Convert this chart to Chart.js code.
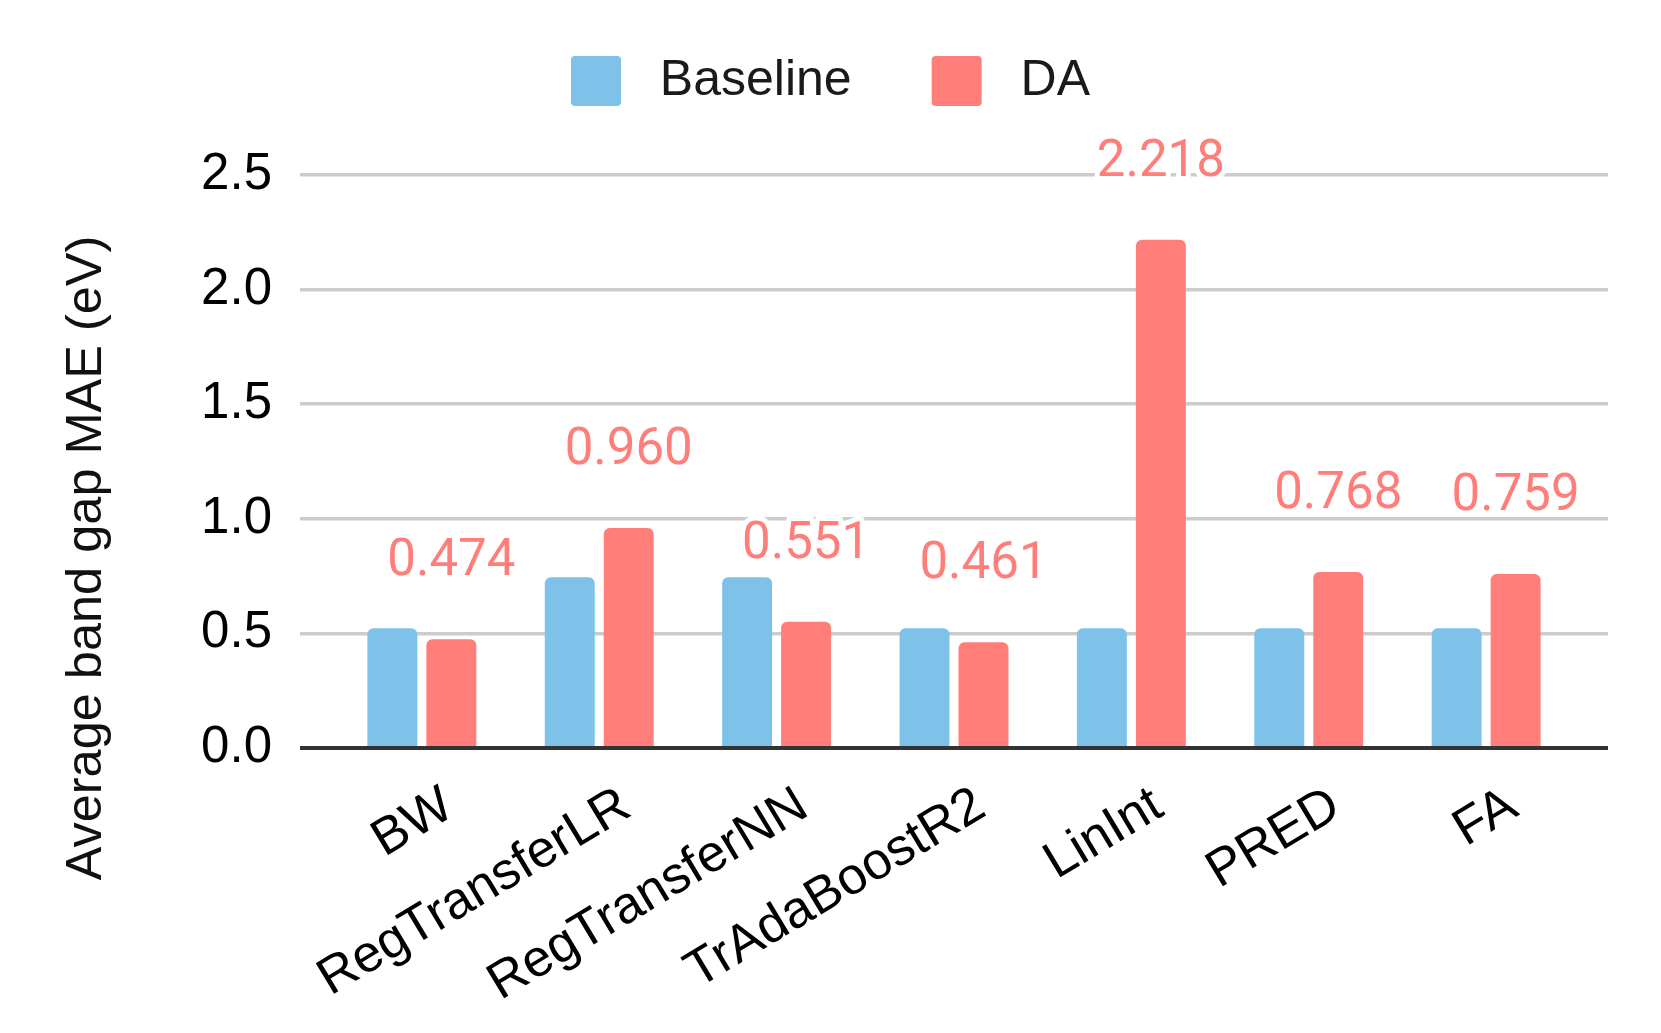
<!DOCTYPE html>
<html><head><meta charset="utf-8">
<script src="https://cdn.jsdelivr.net/npm/chart.js@4.4.1/dist/chart.umd.min.js"></script>
<style>html,body{margin:0;padding:0;background:#fff;} #wrap{width:1661px;height:1033px;position:relative;}</style>
</head><body><div id="wrap"><canvas id="c"></canvas></div>
<script>
const categories = ['BW', 'RegTransferLR', 'RegTransferNN', 'TrAdaBoostR2', 'LinInt', 'PRED', 'FA'];
const baselineValues = [0.523, 0.745, 0.745, 0.523, 0.523, 0.523, 0.523];
const daValues = [0.474, 0.960, 0.551, 0.461, 2.218, 0.768, 0.759];
const yTickValues = [0.0, 0.5, 1.0, 1.5, 2.0, 2.5];
const seriesNames = ['Baseline', 'DA'];
const yAxisTitle = 'Average band gap MAE (eV)';

const BLUE = '#7EC2EA';
const RED = '#FF7E7A';
const FONT = '"Liberation Sans", Arial, sans-serif';

const legendSpacer = {
  id: 'legendSpacer',
  beforeInit(chart) {
    const orig = chart.legend.fit;
    chart.legend.fit = function () { orig.call(this); this.height += 59; };
  }
};

const yTitle = {
  id: 'yTitle',
  afterDraw(chart) {
    const ctx = chart.ctx;
    ctx.save();
    ctx.translate(87, 558);
    ctx.rotate(-Math.PI / 2);
    ctx.font = '50.5px ' + FONT;
    ctx.fillStyle = '#111';
    ctx.textAlign = 'center';
    ctx.textBaseline = 'middle';
    ctx.fillText(yAxisTitle, 0, 0);
    ctx.restore();
  }
};

const valueLabels = {
  id: 'valueLabels',
  afterDatasetsDraw(chart) {
    const meta = chart.getDatasetMeta(1);
    const ctx = chart.ctx;
    ctx.save();
    ctx.font = '51px Roboto';
    ctx.textAlign = 'center';
    ctx.textBaseline = 'alphabetic';
    ctx.lineJoin = 'round';
    meta.data.forEach((el, i) => {
      const txt = daValues[i].toFixed(3);
      const cy = el.y - 82;
      ctx.strokeStyle = '#fff';
      ctx.lineWidth = 10;
      ctx.strokeText(txt, el.x, cy + 18);
      ctx.fillStyle = RED;
      ctx.fillText(txt, el.x, cy + 18);
    });
    ctx.restore();
  }
};

const barRadius = {topLeft: 6, topRight: 6, bottomLeft: 0, bottomRight: 0};

new Chart(document.getElementById('c'), {
  type: 'bar',
  data: {
    datasets: [
      { label: seriesNames[0], data: baselineValues.map((v, i) => ({x: i, y: v})),
        backgroundColor: BLUE, borderWidth: 0, borderRadius: barRadius, borderSkipped: false,
        categoryPercentage: 0.665, barPercentage: 0.847 },
      { label: seriesNames[1], data: daValues.map((v, i) => ({x: i, y: v})),
        backgroundColor: RED, borderWidth: 0, borderRadius: barRadius, borderSkipped: false,
        categoryPercentage: 0.665, barPercentage: 0.847 }
    ]
  },
  options: {
    responsive: true,
    maintainAspectRatio: false,
    animation: false,
    devicePixelRatio: 1,
    layout: { padding: { top: -24, left: 53, right: 53, bottom: 0 } },
    plugins: {
      tooltip: { enabled: false },
      legend: {
        position: 'top',
        labels: {
          boxWidth: 50, boxHeight: 50, padding: 80,
          useBorderRadius: true, borderRadius: 4,
          color: '#1a1a1a',
          font: { family: FONT, size: 50 },
          generateLabels(chart) {
            return Chart.defaults.plugins.legend.labels.generateLabels(chart).map(l => {
              l.text = ' ' + l.text; l.lineWidth = 0; return l;
            });
          }
        }
      }
    },
    scales: {
      x: {
        type: 'linear',
        min: -0.687, max: 6.687,
        bounds: 'data',
        offset: false,
        grid: { display: false, drawTicks: false },
        border: { display: false },
        afterBuildTicks(scale) { scale.ticks = categories.map((_, i) => ({value: i})); },
        afterFit(scale) { scale.height = 285; },
        ticks: {
          autoSkip: false,
          maxRotation: 31, minRotation: 31,
          padding: 27,
          labelOffset: 27,
          color: '#000',
          font: { family: FONT, size: 52 },
          callback: (v) => categories[Math.round(v)]
        }
      },
      y: {
        min: yTickValues[0], max: yTickValues[yTickValues.length - 1],
        afterBuildTicks(scale) { scale.ticks = yTickValues.map(v => ({value: v})); },
        afterFit(scale) { scale.width = 247; },
        grid: {
          drawTicks: false,
          color: (c) => c.tick && c.tick.value === 0 ? '#333' : '#cccccc',
          lineWidth: (c) => c.tick && c.tick.value === 0 ? 4 : 3.5
        },
        border: { display: false },
        ticks: {
          padding: 28,
          color: '#000',
          font: { family: FONT, size: 51 },
          callback: (v) => Number(v).toFixed(1)
        }
      }
    }
  },
  plugins: [legendSpacer, yTitle, valueLabels]
});
</script>
</body></html>
